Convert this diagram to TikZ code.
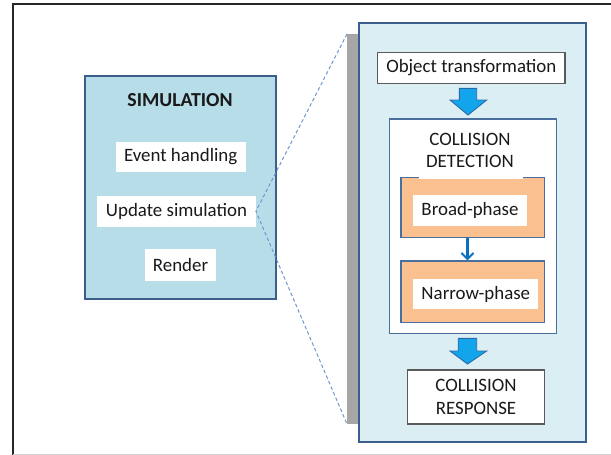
\documentclass[tikz,border=0pt]{standalone}
\usepackage{fontspec}
\setmainfont{Carlito}
\usetikzlibrary{arrows.meta}

\definecolor{simfill}{HTML}{B7DEE8}
\definecolor{detailfill}{HTML}{DBEEF4}
\definecolor{frameblue}{HTML}{3B5E8C}
\definecolor{innerblue}{HTML}{4A6E9E}
\definecolor{phasefill}{HTML}{FAC090}
\definecolor{boxgray}{HTML}{5A5A5A}
\definecolor{barfill}{HTML}{A6A6A6}
\definecolor{zoomline}{HTML}{6F96CC}
\definecolor{flowfill}{HTML}{12A5EC}
\definecolor{flowedge}{HTML}{2C6AA6}
\definecolor{smallarrow}{HTML}{0A70C2}

\tikzset{
  txt/.style={font=\fontsize{18.9}{22.6}\selectfont, inner sep=0pt, align=center, text=black!90},
  panel/.style={draw=frameblue, line width=1.6pt, inner sep=0pt},
  labelbox/.style={txt, fill=white},
  graybox/.style={txt, fill=white, draw=boxgray, line width=1.1pt},
  phasebox/.style={fill=phasefill, draw=innerblue, line width=1.4pt, inner sep=0pt},
  flowarrow/.style={fill=flowfill, draw=flowedge, line width=0.9pt, line join=miter},
}

\begin{document}
\begin{tikzpicture}[x=1pt, y=-1pt]
  \useasboundingbox (0,0) rectangle (611,455);

  % page frame
  \draw[black!85, line width=2pt] (13,455) -- (13,4) -- (611,4);
  \draw[black!18, line width=1.5pt] (13,454.3) -- (611,454.3);

  % simulation loop panel
  \node[panel, fill=simfill, minimum width=191pt, minimum height=223pt] (sim) at (180.5,187.5) {};
  \node[txt, font=\fontsize{19.8}{23}\selectfont\bfseries] (title) at (180,100.5) {SIMULATION};
  \node[labelbox, minimum width=130pt, minimum height=30.6pt] (event) at (180.7,157) {Event handling};
  \node[labelbox, minimum width=158.4pt, minimum height=30.7pt] (update) at (176.5,211.3) {Update simulation};
  \node[labelbox, minimum width=71pt, minimum height=31.4pt] (render) at (180.5,265) {Render};

  % shadow bar behind the detail panel
  \fill[barfill] (347,34) rectangle (362,424);
  \coordinate (zoomtop) at (347,34);
  \coordinate (zoombot) at (347,424);
  \draw[zoomline, dashed, dash pattern=on 3.5pt off 2.5pt, line width=1pt] (zoomtop) -- (update.east) -- (zoombot);

  % detail panel
  \node[panel, fill=detailfill, minimum width=227pt, minimum height=419pt] (detail) at (472.5,232.5) {};
  \node[graybox, minimum width=187.3pt, minimum height=30.6pt] (objtr) at (471.3,68) {Object transformation};

  % collision detection block
  \node[fill=white, draw=innerblue, line width=1.3pt, inner sep=0pt, minimum width=167.4pt, minimum height=214.3pt] (cd) at (473,226.2) {};
  \node[phasebox, minimum width=143.3pt, minimum height=60pt] (broadbg) at (472.7,207.7) {};
  \node[phasebox, minimum width=143.3pt, minimum height=61.3pt] (narrowbg) at (472.7,291.7) {};
  \fill[white] (419.3,176.9) rectangle (522.7,178.5);
  \node[txt] (cdtitle) at (470,150.3) {COLLISION\\DETECTION};
  \node[labelbox, minimum width=113.4pt, minimum height=31pt] (broad) at (470,210.5) {Broad-phase};
  \node[labelbox, minimum width=125pt, minimum height=30.3pt] (narrow) at (475.8,294.2) {Narrow-phase};
  \draw[smallarrow, line width=2.4pt, -{Straight Barb[length=6pt, width=12pt, line width=2pt]}] (broadbg.south -| 467.5,0) -- (narrowbg.north -| 467.5,0);

  \node[graybox, minimum width=136.6pt, minimum height=54pt] (resp) at (476,397) {COLLISION\\RESPONSE};

  % block arrows between stages
  \draw[flowarrow] (459.3,88.3) -- (476.7,88.3) -- (476.7,100) -- (486.7,100) -- (468,115)
    -- (450,100) -- (459.3,100) -- cycle;
  \draw[flowarrow] (458.2,338.3) -- (476.7,338.3) -- (476.7,351) -- (486.7,351) -- (467.5,364)
    -- (450,351) -- (458.2,351) -- cycle;
\end{tikzpicture}
\end{document}
